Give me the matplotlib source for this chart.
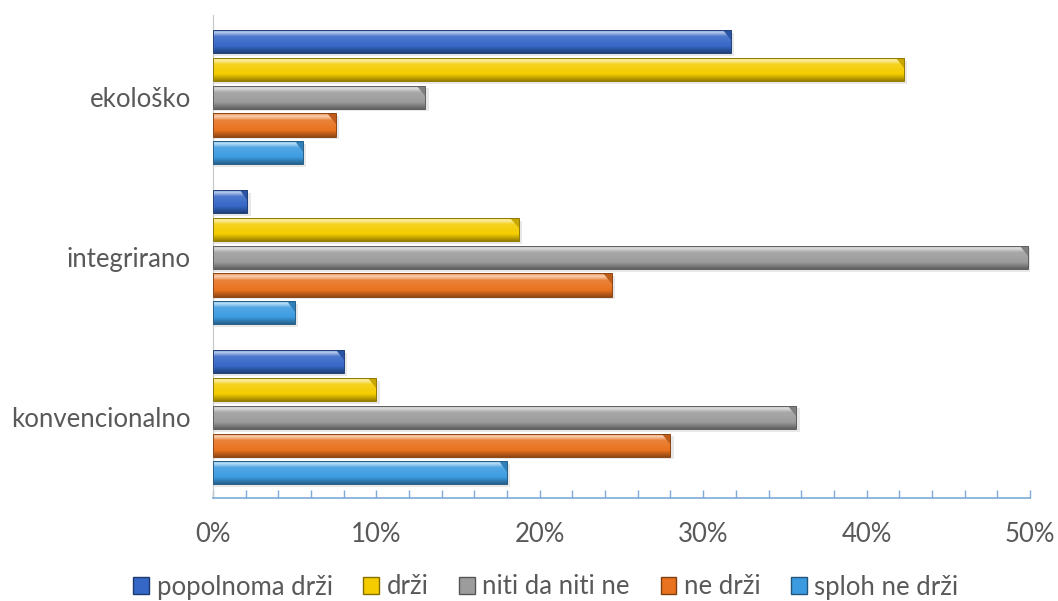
import numpy as np
import matplotlib.pyplot as plt
from matplotlib.colors import LinearSegmentedColormap, to_rgb
from matplotlib.patches import Patch
from matplotlib.ticker import MultipleLocator, PercentFormatter

plt.rcParams['font.family'] = ['Lato', 'DejaVu Sans']

categories = ['ekološko', 'integrirano', 'konvencionalno']
series = ['popolnoma drži', 'drži', 'niti da niti ne', 'ne drži', 'sploh ne drži']
colors = ['#3567C6', '#F4CC00', '#9C9C9C', '#E8721F', '#3C9BE0']

# percentages per category, in series order
values = {
    'ekološko':       [31.7, 42.3, 13.0, 7.5, 5.5],
    'integrirano':    [2.1, 18.7, 49.9, 24.4, 5.0],
    'konvencionalno': [8.0, 10.0, 35.7, 28.0, 18.0],
}

group_step = 5.75
bar_h = 0.83
fs = 18.5
txt = '#595959'


def shade(c, f):
    r = np.array(to_rgb(c))
    if f > 0:
        return tuple(r + (1 - r) * f)
    return tuple(r * (1 + f))


fig, ax = plt.subplots(figsize=(10.58, 6.01), dpi=100)
fig.subplots_adjust(left=0.2013, right=0.9735, bottom=0.1714, top=0.975)

grad = np.linspace(0, 1, 64).reshape(-1, 1)

for g, cat in enumerate(categories):
    for k, (v, c) in enumerate(zip(values[cat], colors)):
        y = -(g * group_step + k)
        # soft shadow under the bar
        ax.barh(y - 0.1, v + 0.2, height=bar_h, left=0, color='#000000',
                alpha=0.09, zorder=1, linewidth=0)
        bar = ax.barh(y, v, height=bar_h, left=0, color=c,
                      edgecolor=shade(c, -0.4), linewidth=0.7, zorder=3)[0]
        cmap = LinearSegmentedColormap.from_list(
            'b', [(0, shade(c, 0.2)), (0.13, shade(c, 0.65)),
                  (0.3, shade(c, 0.12)), (0.72, c), (1, shade(c, -0.38))])
        im = ax.imshow(grad, extent=[0, v, y - bar_h / 2, y + bar_h / 2],
                       aspect='auto', cmap=cmap, origin='upper', zorder=2.5)
        im.set_clip_path(bar)
        bar.set_facecolor('none')
        # bevelled right end
        d = min(0.5, v * 0.2)
        ax.fill([v - d, v, v],
                [y + bar_h / 2, y + bar_h / 2, y + bar_h * 0.05],
                color=shade(c, -0.18), zorder=2.8, linewidth=0)

ax.set_xlim(0, 50)
ax.set_ylim(-(2 * group_step + 4) - 0.9, 0.95)

ax.set_yticks([-(g * group_step + 2) for g in range(len(categories))])
ax.set_yticklabels(categories, fontsize=fs, color=txt)
ax.tick_params(axis='y', length=0, pad=16)

ax.xaxis.set_major_locator(MultipleLocator(10))
ax.xaxis.set_minor_locator(MultipleLocator(2))
ax.xaxis.set_major_formatter(PercentFormatter(decimals=0))
ax.tick_params(axis='x', which='both', direction='in', length=6, width=1,
               color='#7EAAD8', labelsize=fs, labelcolor=txt, pad=17)

for s in ['top', 'right']:
    ax.spines[s].set_visible(False)
ax.spines['left'].set_color('#C8C8C8')
ax.spines['bottom'].set_color('#7EAAD8')
ax.spines['bottom'].set_linewidth(1.2)

handles = [Patch(facecolor=c, edgecolor=shade(c, -0.45)) for c in colors]
fig.legend(handles, series, loc='center', bbox_to_anchor=(546 / 1058, 1 - 587 / 601),
           ncol=5, frameon=False, fontsize=fs, handlelength=0.6,
           handleheight=0.6, handletextpad=0.3, columnspacing=1.2,
           labelcolor=txt)

fig.savefig('out.png', dpi=100)
